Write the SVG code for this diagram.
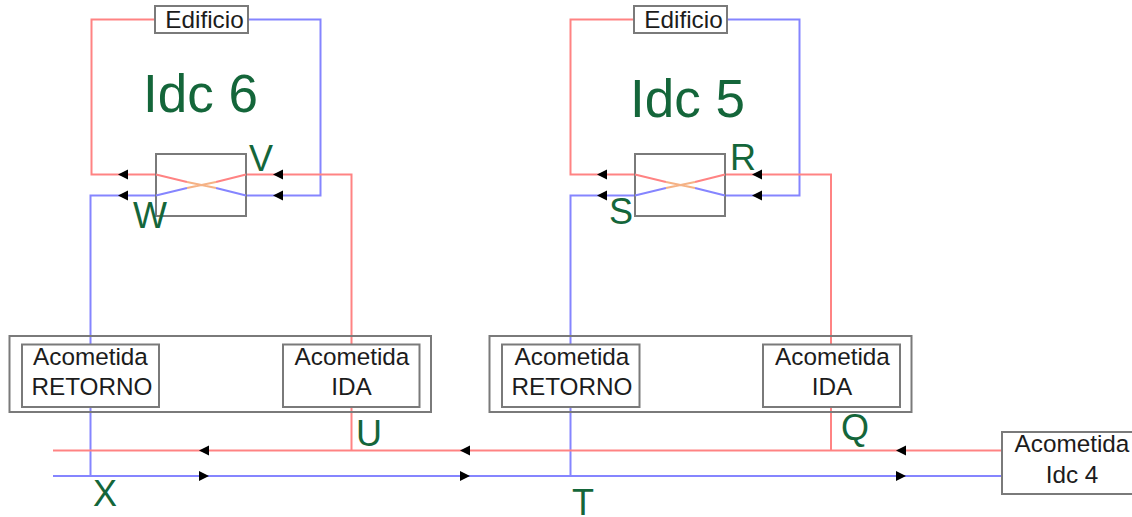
<svg xmlns="http://www.w3.org/2000/svg" width="1132" height="517" viewBox="0 0 1132 517">
<style>
text{font-family:"Liberation Sans",Arial,sans-serif}
.lb{font-size:24.300px;fill:#1c1c1c;text-anchor:middle}
.g{fill:#14663a}
.big{font-size:53px}
.ltr{font-size:36px}
.box{fill:#fff;stroke:#7a7a7a;stroke-width:2}
.ol{fill:none;stroke:#7a7a7a;stroke-width:2}
.r{fill:none;stroke:#ff8383;stroke-width:2}
.b{fill:none;stroke:#8585ff;stroke-width:2}
.o{fill:none;stroke:#f5b285;stroke-width:2}
</style>
<defs>
<polygon id="al" points="0,0 10,-5 10,5" fill="#000"/>
<polygon id="ar" points="10,0 0,-5 0,5" fill="#000"/>
</defs>
<g id="connectors">
<path class="r" d="M155 19.500H91.500V174.500H156"/>
<path class="b" d="M248 19.500H320.500V195.500H246"/>
<path class="r" d="M246 174.500H351.500V450.500"/>
<path class="b" d="M156 195.500H90.500V476"/>
<path class="r" d="M634 19.500H570.500V174.500H635"/>
<path class="b" d="M727 19.500H799.500V195.500H725"/>
<path class="r" d="M725 174.500H831V450.500"/>
<path class="b" d="M635 195.500H570.500V476"/>
<path class="r" d="M53 450.500H1002"/>
<path class="b" d="M53 476H1002"/>
<use href="#al" x="118" y="174.500"/><use href="#al" x="118" y="195.500"/>
<use href="#al" x="273" y="174.500"/><use href="#al" x="273" y="195.500"/>
<use href="#al" x="597" y="174.500"/><use href="#al" x="597" y="195.500"/>
<use href="#al" x="752" y="174.500"/><use href="#al" x="752" y="195.500"/>
<use href="#al" x="199" y="450.500"/><use href="#al" x="460" y="450.500"/><use href="#al" x="896" y="450.500"/>
<use href="#ar" x="199" y="476"/><use href="#ar" x="460" y="476"/><use href="#ar" x="896" y="476"/>
</g>
<g id="edificio-6"><rect class="box" x="155" y="6" width="93" height="27"/><text class="lb" x="204.500" y="28">Edificio</text></g>
<g id="edificio-5"><rect class="box" x="634" y="6" width="93" height="27"/><text class="lb" x="683.500" y="28">Edificio</text></g>
<g id="intercambiador-6">
<rect class="ol" x="156" y="154" width="90" height="62"/>
<path class="r" d="M156 174.500L187 182M246 174.500L216 182"/>
<path class="b" d="M156 195.500L187 188M246 195.500L216 188"/>
<path class="o" d="M187 182L216 188M216 182L187 188"/>
</g>
<g id="intercambiador-5">
<rect class="ol" x="635" y="154" width="90" height="62"/>
<path class="r" d="M635 174.500L666 182M725 174.500L695 182"/>
<path class="b" d="M635 195.500L666 188M725 195.500L695 188"/>
<path class="o" d="M666 182L695 188M695 182L666 188"/>
</g>
<g id="grupo-6"><rect class="ol" x="9.500" y="336" width="421.500" height="76"/></g>
<g id="retorno-6"><rect class="box" x="22" y="344.500" width="137" height="62.500"/><text class="lb" x="90.500" y="365">Acometida</text><text class="lb" x="92" y="395">RETORNO</text></g>
<g id="ida-6"><rect class="box" x="283" y="344.500" width="136.500" height="62.500"/><text class="lb" x="352" y="365">Acometida</text><text class="lb" x="351.500" y="395">IDA</text></g>
<g id="grupo-5"><rect class="ol" x="489.500" y="336" width="422" height="76"/></g>
<g id="retorno-5"><rect class="box" x="502" y="344.500" width="137.500" height="62.500"/><text class="lb" x="572" y="365">Acometida</text><text class="lb" x="572" y="395">RETORNO</text></g>
<g id="ida-5"><rect class="box" x="763" y="344.500" width="137" height="62.500"/><text class="lb" x="832.500" y="365">Acometida</text><text class="lb" x="832" y="395">IDA</text></g>
<g id="acometida-4"><rect class="box" x="1002" y="432" width="140" height="62"/><text class="lb" x="1072" y="452">Acometida</text><text class="lb" x="1072" y="483">Idc 4</text></g>
<g id="etiquetas">
<text class="g big" x="143" y="112">Idc 6</text>
<text class="g big" x="630" y="117">Idc 5</text>
<text class="g ltr" x="249" y="171">V</text>
<text class="g ltr" x="133" y="228">W</text>
<text class="g ltr" x="730" y="170">R</text>
<text class="g ltr" x="609" y="224">S</text>
<text class="g ltr" x="356" y="446">U</text>
<text class="g ltr" x="93" y="506">X</text>
<text class="g ltr" x="841" y="440">Q</text>
<text class="g ltr" x="572" y="515">T</text>
</g>
</svg>
